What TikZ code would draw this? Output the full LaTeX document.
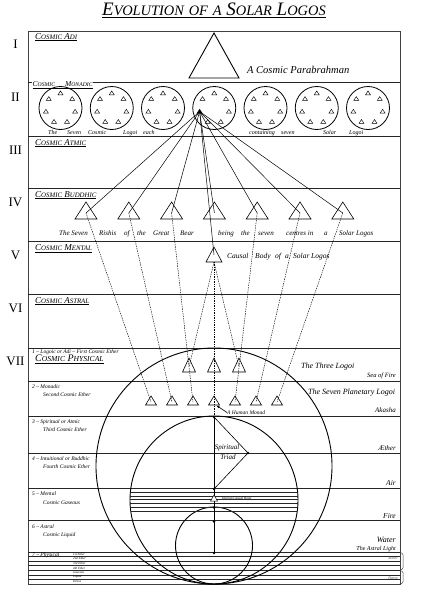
\documentclass[tikz,border=0pt]{standalone}
\usepackage{fontspec}
\setmainfont{Liberation Serif}
\usepackage{graphicx}
\usetikzlibrary{arrows.meta}
\newcommand\scx[2]{#1\scalebox{0.76}{#2}}
\newcommand\fs[1]{\fontsize{#1}{#1}\selectfont}
\begin{document}
\begin{tikzpicture}[x=1pt,y=-1pt,
  frm/.style={line width=0.9pt,black!75},
  bnd/.style={line width=0.6pt,black!85},
  thn/.style={line width=0.45pt,black!85},
  tri/.style={line width=0.6pt},
  conn/.style={line width=0.5pt},
  dsh/.style={line width=0.45pt,dash pattern=on 1.4pt off 1pt},
  big/.style={line width=0.9pt},
  rom/.style={inner sep=0pt,font=\fs{13}},
  blab/.style={inner sep=0pt,anchor=base west,font=\fs{9}\itshape},
  txt/.style={inner sep=0pt,font=\itshape}]
\useasboundingbox (0,0) rectangle (421,605);

% title
\node[inner sep=0pt,anchor=base] (title) at (214,16)
  {\fs{19}\itshape\underline{\scx{E}{VOLUTION} \scx{}{OF} \scx{}{A} \scx{S}{OLAR} \scx{L}{OGOS}}};

% frame and bands
\draw[frm] (28,31) rectangle (400,584);
\foreach \yy in {82,136,188,241,294,348,381,416,453,488,520,552}
  \draw[bnd] (28,\yy) -- (400,\yy);
\foreach \k in {1,...,6}
  \draw[thn] (28,{552+\k*32/7}) -- (400,{552+\k*32/7});

% roman numerals
\node[rom] (rI) at (15.5,44) {I};
\node[rom] (rII) at (15.5,97) {II};
\node[rom] (rIII) at (15.5,150) {III};
\node[rom] (rIV) at (15.5,202) {IV};
\node[rom] (rV) at (15.5,255) {V};
\node[rom] (rVI) at (15.5,308) {VI};
\node[rom] (rVII) at (15.5,361) {VII};

% band labels
\node[blab] (lI) at (35,39) {\underline{\scx{C}{OSMIC} \scx{A}{DI}}};
\node[blab,font=\fs{7.5}\itshape,fill=white,inner sep=0.5pt] (lII) at (32,86.5) {\underline{\scx{C}{OSMIC}\hspace{10pt}\scx{M}{ONADIC}}};
\node[blab] (lIII) at (35,145) {\underline{\scx{C}{OSMIC} \scx{A}{TMIC}}};
\node[blab] (lIV) at (35,197) {\underline{\scx{C}{OSMIC} \scx{B}{UDDHIC}}};
\node[blab] (lV) at (35,250.5) {\underline{\scx{C}{OSMIC} \scx{M}{ENTAL}}};
\node[blab] (lVI) at (35,303) {\underline{\scx{C}{OSMIC} \scx{A}{STRAL}}};
\node[blab,font=\fs{10}\itshape] (lVII) at (35,361.5) {\underline{\scx{C}{OSMIC} \scx{P}{HYSICAL}}};

% band I
\draw[line width=0.9pt] (189,78) -- (214,33) -- (239,78) -- cycle;
\node[txt,anchor=base west,font=\fs{10.5}\itshape] (parab) at (247,73) {A Cosmic Parabrahman};

% band II circles
\foreach \i in {0,...,6} {
  \pgfmathsetmacro\cx{60.5+\i*51.25}
  \draw[line width=0.8pt] (\cx,108) circle (21.5pt);
  \foreach \k in {0,...,6} {
    \pgfmathsetmacro\ang{90-\k*360/7}
    \pgfmathsetmacro\tx{\cx+15*cos(\ang)}
    \pgfmathsetmacro\ty{108-15*sin(\ang)}
    \draw[line width=0.45pt] ({\tx-2.5},{\ty+1.8}) -- (\tx,{\ty-2}) -- ({\tx+2.5},{\ty+1.8}) -- cycle;
  }
}
\fill (197.1,113.1) -- (199.6,109.3) -- (202.1,113.1) -- cycle;
\coordinate (src) at (199.6,111.5);

\begin{scope}[every node/.style={txt,anchor=base west,font=\fs{6}\itshape}]
\node (w1) at (48,134) {The};
\node (w2) at (67,134) {Seven};
\node (w3) at (88,134) {Cosmic};
\node (w4) at (123,134) {Logoi};
\node (w5) at (143,134) {each};
\node (w6) at (249,134) {containing};
\node (w7) at (281,134) {seven};
\node (w8) at (323,134) {Solar};
\node (w9) at (349,134) {Logoi};
\end{scope}

% band IV triangles
\foreach \i in {0,...,6} {
  \pgfmathsetmacro\bx{86+\i*42.8}
  \draw[tri] ({\bx-11},219) -- (\bx,202) -- ({\bx+11},219) -- cycle;
  \coordinate (b\i) at (\bx,213);
}
\begin{scope}[every node/.style={txt,anchor=base west,font=\fs{7}\itshape}]
\node (r1) at (59,235.5) {The Seven};
\node (r2) at (99,235.5) {Rishis};
\node (r3) at (124,235.5) {of};
\node (r4) at (137,235.5) {the};
\node (r5) at (153,235.5) {Great};
\node (r6) at (180,235.5) {Bear};
\node (r7) at (218,235.5) {being};
\node (r8) at (241,235.5) {the};
\node (r9) at (258,235.5) {seven};
\node (r10) at (286,235.5) {centres in};
\node (r11) at (324,235.5) {a};
\node (r12) at (339,235.5) {Solar Logos};
\end{scope}

% band V
\draw[tri] (206,262) -- (214,247) -- (222,262) -- cycle;
\coordinate (vin) at (214,255);
\coordinate (vb) at (214,262);
\begin{scope}[every node/.style={txt,anchor=base west,font=\fs{7.5}\itshape}]
\node (c1) at (227,258) {Causal};
\node (c2) at (255,258) {Body};
\node (c3) at (275,258) {of};
\node (c4) at (285,258) {a};
\node (c5) at (293,258) {Solar};
\node (c6) at (311,258) {Logos};
\end{scope}

% band VII big circles
\draw[big] (214,466) circle (118pt);
\draw[big] (214,500) circle (84pt);
\draw[big] (214,545.5) circle (38.5pt);
\begin{scope}
  \clip (214,500) circle (84pt);
  \foreach \yy in {492,496,499.5,503,507,511.5}
    \draw[thn] (120,\yy) -- (310,\yy);
\end{scope}

% three logoi
\foreach \i/\lx in {1/189,2/214,3/239} {
  \draw[tri] ({\lx-6.5},372) -- (\lx,358) -- ({\lx+6.5},372) -- cycle;
  \coordinate (L\i) at (\lx,367);
}
% seven planetary logoi
\foreach \i in {0,...,6} {
  \pgfmathsetmacro\px{151+\i*21}
  \draw[tri] ({\px-5.5},405) -- (\px,396) -- ({\px+5.5},405) -- cycle;
  \coordinate (p\i) at (\px,402);
}

% spiritual triad
\coordinate (T1) at (214,417);
\coordinate (T2) at (248,453);
\coordinate (T3) at (214,489);
\coordinate (T4) at (214,507.5);
\coordinate (T5) at (214,521.5);
\coordinate (T6) at (214,553);
\draw[conn,line width=0.6pt] (T1) -- (T2) -- (T3);
\draw[conn,line width=0.6pt] (T1) -- (T6);
\foreach \p in {T1,T2,T3,T4,T5,T6} \fill (\p) circle (1.3pt);
\node[txt,font=\fs{7}\itshape] (sp1) at (227,448) {Spiritual};
\node[txt,font=\fs{7}\itshape] (sp2) at (228,457.5) {Triad};

% human causal body
\draw[line width=0.5pt,fill=white] (210.5,501) -- (214,495) -- (217.5,501) -- cycle;
\node[txt,anchor=west,font=\fs{3.5}\itshape] (hcb) at (222,498.5) {Human Causal Body};

% connectors
\foreach \i in {0,1,2,4,5,6} {
  \draw[conn] (src) -- (b\i);
  \draw[dsh] (b\i) -- (p\i);
}
\draw[conn] (src) -- (b3);
\draw[conn] (src) -- (vin);
\draw[dsh] (vb) -- (L1);
\draw[dsh] (vb) -- (L3);
\draw[dsh] (vb) -- (T1);

% human monad
\node[txt,anchor=west,font=\fs{5.5}\itshape] (hm) at (227,412.5) {A Human Monad};
\coordinate (hmtip) at (216.5,405.5);
\draw[line width=0.6pt,-{Latex[length=3pt,width=2.6pt]}] (hm.west) -- (hmtip);

% right labels
\begin{scope}[every node/.style={txt}]
\node[anchor=base west,font=\fs{8}\itshape] (tl) at (301,368) {The Three Logoi};
\node[anchor=base east,font=\fs{6.5}\itshape] (sf) at (396,377) {Sea of Fire};
\node[anchor=base west,font=\fs{8}\itshape] (spl) at (308,394.5) {The Seven Planetary Logoi};
\node[anchor=base east,font=\fs{7}\itshape] (ak) at (396,412) {Akasha};
\node[anchor=base east,font=\fs{7}\itshape] (ae) at (396,450.5) {Æther};
\node[anchor=base east,font=\fs{7.5}\itshape] (air) at (396,485.5) {Air};
\node[anchor=base east,font=\fs{7.5}\itshape] (fire) at (396,518.5) {Fire};
\node[anchor=base east,font=\fs{8}\itshape] (water) at (396,542.5) {Water};
\node[anchor=base east,font=\fs{6}\itshape] (astl) at (396,550.5) {The Astral Light};
\end{scope}

% left labels in VII
\begin{scope}[every node/.style={txt,anchor=base west,font=\fs{5.5}\itshape}]
\node (s1) at (32,353) {1 – Logoic or Adi – First Cosmic Ether};
\node (s2a) at (32,388) {2 – Monadic};
\node (s2b) at (43,396) {Second Cosmic Ether};
\node (s3a) at (32,423) {3 – Spiritual or Atmic};
\node (s3b) at (43,431) {Third Cosmic Ether};
\node (s4a) at (32,460) {4 – Intuitional or Buddhic};
\node (s4b) at (43,468) {Fourth Cosmic Ether};
\node (s5a) at (32,495) {5 – Mental};
\node (s5b) at (43,504) {Cosmic Gaseous};
\node (s6a) at (32,528) {6 – Astral};
\node (s6b) at (43,536) {Cosmic Liquid};
\node (s7) at (32,556) {7 – Physical};
\end{scope}
\foreach \k/\t in {0/1st Ether,1/2nd Ether,2/3rd Ether,3/4th Ether,4/Gaseous,5/Liquid,6/Dense}
  \node[txt,anchor=west,font=\fs{3.2}\itshape] (sub\k) at (73,{552+(\k+0.5)*32/7}) {\t};

% right brackets
\draw[line width=0.5pt,black!70,rounded corners=1.2pt] (400,552.5) -- (403,553.5) -- (403,569) -- (400,570);
\draw[line width=0.5pt,black!70,rounded corners=1.2pt] (400,570.5) -- (403,571.5) -- (403,583) -- (400,584);
\node[txt,anchor=east,font=\fs{3.8}\itshape,black!70] (aeth) at (398,558) {Æther};
\node[txt,anchor=east,font=\fs{3.8}\itshape,black!70] (dens) at (398,578.5) {Dense};
\end{tikzpicture}
\end{document}
